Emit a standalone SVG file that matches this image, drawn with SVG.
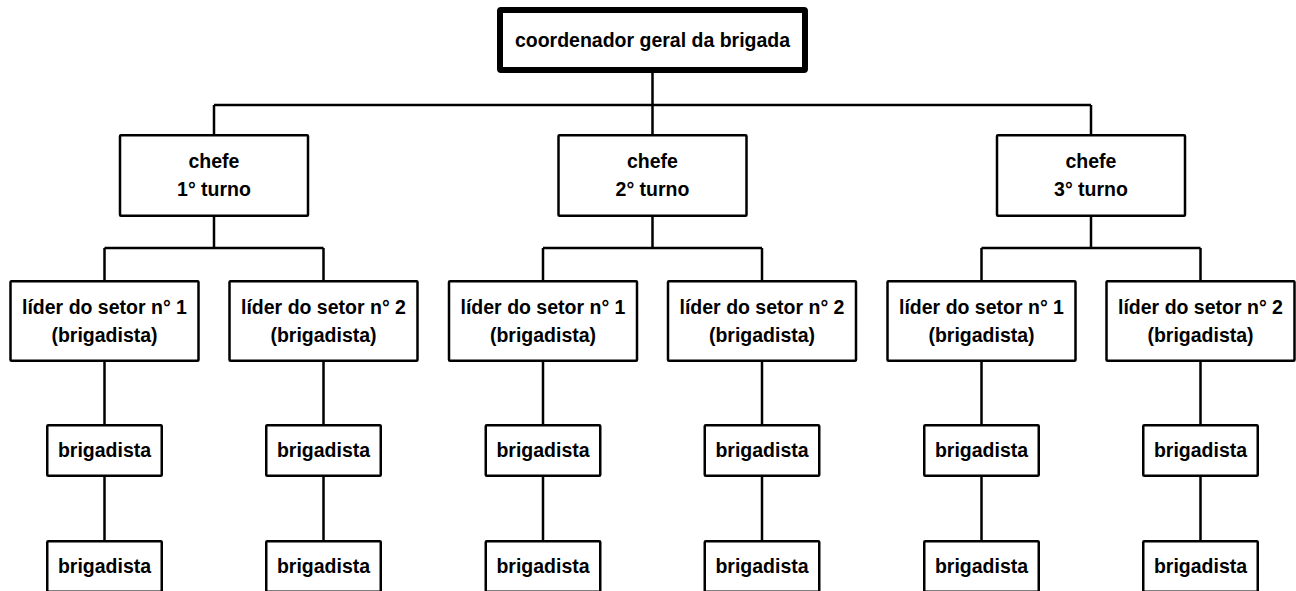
<svg xmlns="http://www.w3.org/2000/svg" width="1296" height="591" viewBox="0 0 1296 591">
<style>
.box{fill:#fff;stroke:#000;stroke-width:2.5}
.top{fill:#fff;stroke:#000;stroke-width:6}
.t{font-family:"Liberation Sans",Arial,sans-serif;font-weight:bold;font-size:19.5px;fill:#000;text-anchor:middle}
.c{fill:none;stroke:#000;stroke-width:2.5}
</style>
<rect width="1296" height="591" fill="#fff"/>
<g id="connectors">
<path class="c" d="M652.5 73V105M214 105H1091M214 105V134M652.5 105V134M1091 105V134"/>
<path class="c" d="M214 217V248M104.5 248H323.5M104.5 248V280M323.5 248V280"/>
<path class="c" d="M652.5 217V248M543 248H762M543 248V280M762 248V280"/>
<path class="c" d="M1091 217V248M981.5 248H1200.5M981.5 248V280M1200.5 248V280"/>
<path class="c" d="M104.5 362V540M323.5 362V540M543 362V540M762 362V540M981.5 362V540M1200.5 362V540"/>
</g>
<g id="coordenador"><rect class="top" x="500" y="10" width="305" height="60" rx="1"/><text class="t" x="652.5" y="47">coordenador geral da brigada</text></g>
<g id="chefe1"><rect class="box" x="120" y="135.25" width="188" height="80.5" rx="1"/><text class="t" x="214" y="168">chefe</text><text class="t" x="214" y="196">1° turno</text></g>
<g id="chefe2"><rect class="box" x="558.5" y="135.25" width="188" height="80.5" rx="1"/><text class="t" x="652.5" y="168">chefe</text><text class="t" x="652.5" y="196">2° turno</text></g>
<g id="chefe3"><rect class="box" x="997" y="135.25" width="188" height="80.5" rx="1"/><text class="t" x="1091" y="168">chefe</text><text class="t" x="1091" y="196">3° turno</text></g>
<g id="lider1a"><rect class="box" x="10.5" y="281.25" width="188" height="79.5" rx="1"/><text class="t" x="104.5" y="314">líder do setor n° 1</text><text class="t" x="104.5" y="342">(brigadista)</text></g>
<g id="lider1b"><rect class="box" x="229.5" y="281.25" width="188" height="79.5" rx="1"/><text class="t" x="323.5" y="314">líder do setor n° 2</text><text class="t" x="323.5" y="342">(brigadista)</text></g>
<g id="lider2a"><rect class="box" x="449" y="281.25" width="188" height="79.5" rx="1"/><text class="t" x="543" y="314">líder do setor n° 1</text><text class="t" x="543" y="342">(brigadista)</text></g>
<g id="lider2b"><rect class="box" x="668" y="281.25" width="188" height="79.5" rx="1"/><text class="t" x="762" y="314">líder do setor n° 2</text><text class="t" x="762" y="342">(brigadista)</text></g>
<g id="lider3a"><rect class="box" x="887.5" y="281.25" width="188" height="79.5" rx="1"/><text class="t" x="981.5" y="314">líder do setor n° 1</text><text class="t" x="981.5" y="342">(brigadista)</text></g>
<g id="lider3b"><rect class="box" x="1106.5" y="281.25" width="188" height="79.5" rx="1"/><text class="t" x="1200.5" y="314">líder do setor n° 2</text><text class="t" x="1200.5" y="342">(brigadista)</text></g>
<g id="brig1a1"><rect class="box" x="47.25" y="425.25" width="114.5" height="50.5" rx="1"/><text class="t" x="104.5" y="457">brigadista</text></g>
<g id="brig1a2"><rect class="box" x="47.25" y="541.25" width="114.5" height="50.5" rx="1"/><text class="t" x="104.5" y="573">brigadista</text></g>
<g id="brig1b1"><rect class="box" x="266.25" y="425.25" width="114.5" height="50.5" rx="1"/><text class="t" x="323.5" y="457">brigadista</text></g>
<g id="brig1b2"><rect class="box" x="266.25" y="541.25" width="114.5" height="50.5" rx="1"/><text class="t" x="323.5" y="573">brigadista</text></g>
<g id="brig2a1"><rect class="box" x="485.75" y="425.25" width="114.5" height="50.5" rx="1"/><text class="t" x="543" y="457">brigadista</text></g>
<g id="brig2a2"><rect class="box" x="485.75" y="541.25" width="114.5" height="50.5" rx="1"/><text class="t" x="543" y="573">brigadista</text></g>
<g id="brig2b1"><rect class="box" x="704.75" y="425.25" width="114.5" height="50.5" rx="1"/><text class="t" x="762" y="457">brigadista</text></g>
<g id="brig2b2"><rect class="box" x="704.75" y="541.25" width="114.5" height="50.5" rx="1"/><text class="t" x="762" y="573">brigadista</text></g>
<g id="brig3a1"><rect class="box" x="924.25" y="425.25" width="114.5" height="50.5" rx="1"/><text class="t" x="981.5" y="457">brigadista</text></g>
<g id="brig3a2"><rect class="box" x="924.25" y="541.25" width="114.5" height="50.5" rx="1"/><text class="t" x="981.5" y="573">brigadista</text></g>
<g id="brig3b1"><rect class="box" x="1143.25" y="425.25" width="114.5" height="50.5" rx="1"/><text class="t" x="1200.5" y="457">brigadista</text></g>
<g id="brig3b2"><rect class="box" x="1143.25" y="541.25" width="114.5" height="50.5" rx="1"/><text class="t" x="1200.5" y="573">brigadista</text></g>
</svg>
